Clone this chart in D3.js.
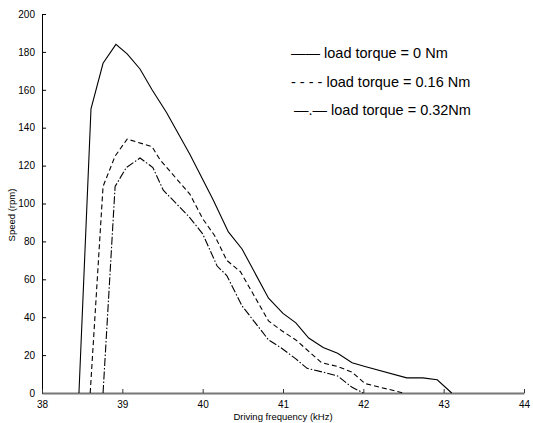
<!DOCTYPE html>
<html><head><meta charset="utf-8">
<script src="https://cdn.jsdelivr.net/npm/d3@7/dist/d3.min.js"></script>
<style>body{margin:0;background:#fff}svg{display:block}text{font-family:Arial,"Liberation Sans",sans-serif}</style>
</head><body>
<script>
// Data
const freq0   = [38.46,38.61,38.76,38.92,39.06,39.22,39.37,39.55,39.84,40.13,40.32,40.49,40.82,41.0,41.16,41.32,41.50,41.68,41.86,42.02,42.54,42.74,42.92,43.10];
const speed0  = [0,150,174,184,179,171,160,148,126,102,85,76,50,42,37,29,24,21,16,14,8,8,7,0];
const freq16  = [38.60,38.76,38.91,39.06,39.37,39.47,39.84,40.0,40.15,40.30,40.47,40.82,40.98,41.16,41.48,41.68,41.86,42.02,42.50];
const speed16 = [0,109,125,134,130,123,105,92,83,70,64,38,33,28,16,14,11,5,0];
const freq32  = [38.76,38.91,39.05,39.22,39.38,39.51,39.83,40.0,40.18,40.30,40.49,40.82,40.97,41.16,41.30,41.50,41.68,41.86,42.0];
const speed32 = [0,109,119,124,119,107,93,84,67,62,46,28,24,18,13,11,9,3,0];
const xTicks = [38,39,40,41,42,43,44];
const yTicks = [0,20,40,60,80,100,120,140,160,180,200];
const legendLabels = ["—— load torque = 0 Nm","- - - - load torque = 0.16 Nm","—.— load torque = 0.32Nm"];
const dashes = [null,"5,3","8,2,1.5,2"];

const W=533,H=423;
const svg=d3.select("body").append("svg").attr("width",W).attr("height",H);
const x=d3.scaleLinear().domain([38,44]).range([42,524]);
const y=d3.scaleLinear().domain([0,200]).range([393,14]);
const FONT="Arial, 'Liberation Sans', sans-serif";

// y axis
const ya=svg.append("g").attr("transform",`translate(${x(38)},0)`)
  .call(d3.axisLeft(y).tickValues(yTicks).tickFormat(d3.format("d")).tickSize(-4).tickSizeOuter(0).tickPadding(7));
ya.select(".domain").attr("stroke","#000");
ya.selectAll(".tick line").attr("stroke","#000");
ya.selectAll("text").attr("font-size",10).attr("fill","#000").attr("font-family",FONT);

// x axis
const xa=svg.append("g").attr("transform",`translate(0,${y(0)})`)
  .call(d3.axisBottom(x).tickValues(xTicks).tickFormat(d3.format("d")).tickSize(-4).tickSizeOuter(0).tickPadding(8));
xa.select(".domain").attr("stroke","#777").attr("stroke-width",2);
xa.selectAll(".tick line").attr("stroke","#333");
xa.selectAll("text").attr("font-size",10).attr("fill","#000").attr("font-family",FONT);

// lines
const series=[[freq0,speed0],[freq16,speed16],[freq32,speed32]];
const line=d3.line().x(d=>x(d[0])).y(d=>y(d[1]));
series.forEach((s,i)=>{
  const pts=s[0].map((f,j)=>[f,s[1][j]]);
  svg.append("path").attr("d",line(pts)).attr("fill","none").attr("stroke","#000")
    .attr("stroke-width",1.1).attr("stroke-dasharray",dashes[i]);
});

// legend
const lx=[291,291,294], ly=[58,87,115];
legendLabels.forEach((t,i)=>{
  svg.append("text").attr("x",lx[i]).attr("y",ly[i]).attr("font-size",14.5).attr("fill","#000").text(t);
});

// axis titles
svg.append("text").attr("x",283).attr("y",420).attr("text-anchor","middle").attr("font-size",9.5).text("Driving frequency (kHz)");
svg.append("text").attr("transform","translate(15,215) rotate(-90)").attr("text-anchor","middle").attr("font-size",9.5).text("Speed (rpm)");
</script>
</body></html>
